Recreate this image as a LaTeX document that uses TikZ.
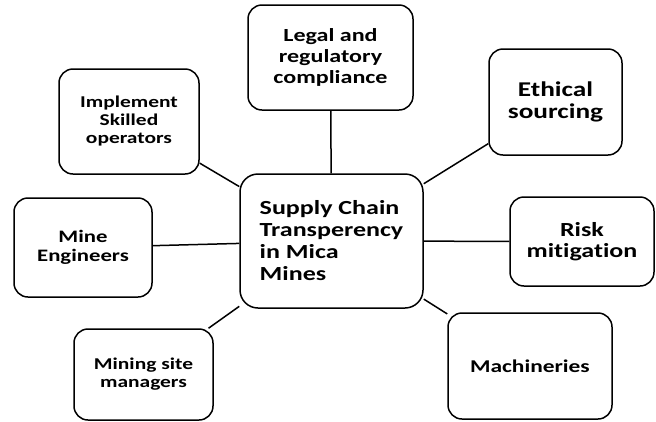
\documentclass[tikz,border=0pt]{standalone}
\usepackage{fontspec}
\setmainfont{Carlito}[FakeStretch=1.3,Ligatures=NoCommon]
\newcommand{\boxsize}[2]{\fontsize{#1}{#2}\selectfont}
\tikzset{
  topic/.style={draw,line width=1.5pt,rounded corners=14pt,align=center,inner sep=2pt},
  hub/.style={topic,rounded corners=18pt,align=left},
  link/.style={line width=1.5pt},
}

\begin{document}
\begin{tikzpicture}[x=1pt,y=-1pt]
  \useasboundingbox (0,0) rectangle (656,421);
  % centre box
  \node[hub,minimum width=183pt,minimum height=134pt,font=\bfseries\boxsize{20}{22}]
    (supply) at (331.5,241) {Supply Chain\\Transperency\\in Mica\\Mines};
  % boxes around it
  \node[topic,minimum width=165pt,minimum height=105pt,font=\bfseries\boxsize{18.5}{21}]
    (legal) at (330.5,57.5) {Legal and\\regulatory\\compliance};
  \node[topic,minimum width=140pt,minimum height=105pt,font=\bfseries\boxsize{16.5}{18}]
    (skilled) at (129,121.5) {Implement\\Skilled\\operators};
  \node[topic,minimum width=133pt,minimum height=106pt,font=\bfseries\boxsize{21}{22}]
    (ethical) at (555.5,102) {Ethical\\sourcing};
  \node[topic,minimum width=138pt,minimum height=99pt,font=\bfseries\boxsize{17.5}{19}]
    (engineers) at (83,247.5) {Mine\\Engineers};
  \node[topic,minimum width=144pt,minimum height=89pt,font=\bfseries\boxsize{20}{21}]
    (risk) at (582,241.5) {Risk\\mitigation};
  \node[topic,minimum width=139pt,minimum height=91pt,font=\bfseries\boxsize{16.5}{18}]
    (managers) at (143.5,374.5) {Mining site\\managers};
  \node[topic,minimum width=164pt,minimum height=106pt,font=\bfseries\boxsize{18}{20}]
    (machines) at (530,366) {Machineries};

  \foreach \t in {legal,skilled,ethical,engineers,risk,managers,machines}
    \draw[link] (supply) -- (\t);
\end{tikzpicture}
\end{document}
